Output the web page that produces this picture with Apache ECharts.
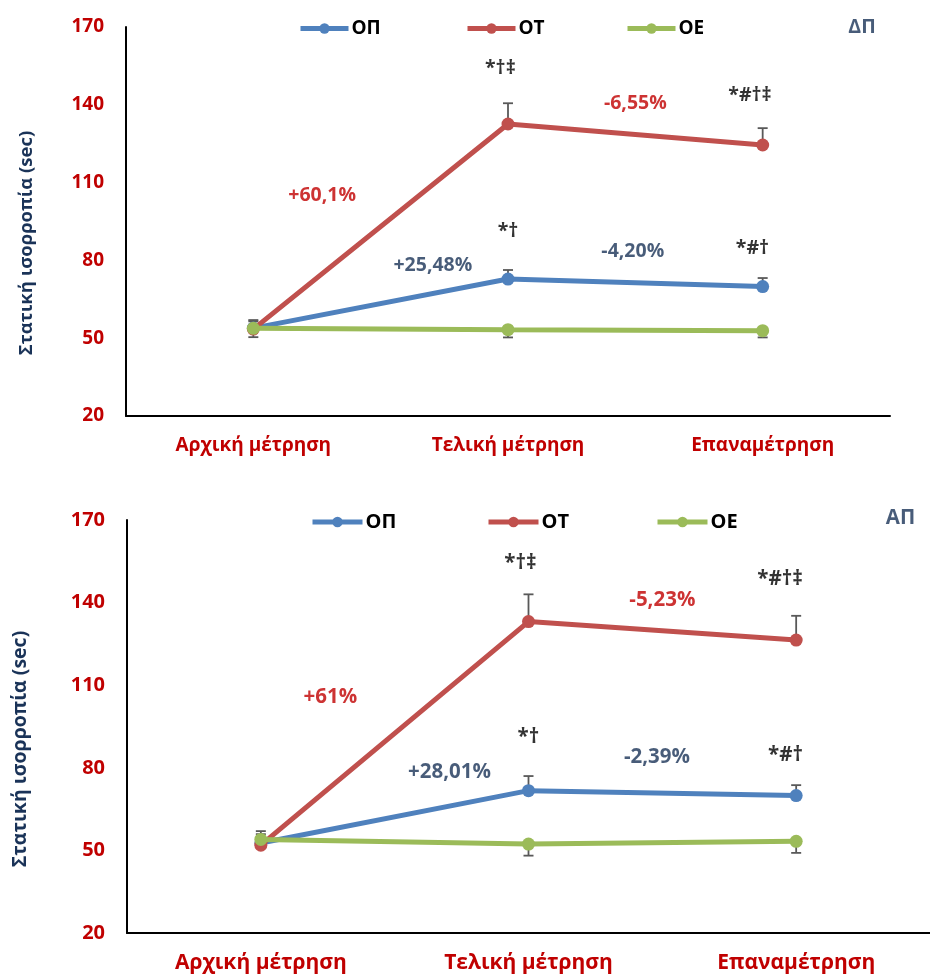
<!DOCTYPE html>
<html>
<head>
<meta charset="utf-8">
<script src="https://cdn.jsdelivr.net/npm/echarts@6/dist/echarts.min.js"></script>
<style>html,body{margin:0;padding:0;background:#fff}#c{width:930px;height:978px}</style>
</head>
<body>
<div id="c"></div>
<script>
// ---- data ----
var categories = ['Αρχική μέτρηση', 'Τελική μέτρηση', 'Επαναμέτρηση'];
var seriesNames = ['ΟΠ', 'ΟΤ', 'ΟΕ'];
var yTicks = [20, 50, 80, 110, 140, 170];

// Top panel (ΔΠ)
var dpOP = [53.9, 72.8, 69.9];
var dpOT = [53.5, 132.6, 124.5];
var dpOE = [53.8, 53.3, 52.9];
var dpErrOP = [3.1, 3.5, 3.3];   // upward
var dpErrOT = [3.0, 8.0, 6.5];   // upward
var dpErrOE = [3.4, 3.0, 2.6];   // downward

// Bottom panel (ΑΠ)
var apOP = [52.7, 71.7, 69.9];
var apOT = [51.9, 133.1, 126.4];
var apOE = [54.0, 52.3, 53.3];
var apErrOP = [4.3, 5.3, 3.8];
var apErrOT = [4.0, 9.9, 8.8];
var apErrOE = [2.0, 4.2, 4.2];

// annotations: [x position (category units), y value, text, colour key]
var dpNotes = [
  [0.27, 105.2, '+60,1%', 'red'],
  [0.97, 154.2, '*†‡', 'black'],
  [1.50, 140.7, '-6,55%', 'red'],
  [1.95, 143.8, '*#†‡', 'black'],
  [1.00, 91.0, '*†', 'black'],
  [0.705, 78.2, '+25,48%', 'navy'],
  [1.49, 83.6, '-4,20%', 'navy'],
  [1.96, 84.8, '*#†', 'black'],
  [2.39, 170.0, 'ΔΠ', 'navy']
];
var apNotes = [
  [0.26, 105.7, '+61%', 'red'],
  [0.97, 154.4, '*†‡', 'black'],
  [1.50, 140.9, '-5,23%', 'red'],
  [1.94, 148.6, '*#†‡', 'black'],
  [1.00, 91.2, '*†', 'black'],
  [0.705, 78.5, '+28,01%', 'navy'],
  [1.48, 83.9, '-2,39%', 'navy'],
  [1.96, 84.6, '*#†', 'black'],
  [2.39, 170.7, 'ΑΠ', 'navy']
];

// ---- styles ----
var COLORS = ['#4f81bd', '#c0504d', '#9bbb59'];
var TXT = {red: '#c00000', navy: '#1a3358', black: '#000000'};
var FONT = '"Open Sans", "Noto Sans", sans-serif';

function lineSeries(idx, name, data, color, z) {
  return {
    type: 'line', name: name, xAxisIndex: idx, yAxisIndex: idx,
    data: data, symbol: 'circle', symbolSize: 13,
    lineStyle: {color: color, width: 5}, itemStyle: {color: color},
    z: z, silent: true, animation: false
  };
}
function errSeries(idx, vals, errs, dir) {
  var d = vals.map(function (v, i) { return [i, v, errs[i]]; });
  return {
    type: 'custom', xAxisIndex: idx, yAxisIndex: idx, data: d, z: 1, silent: true, animation: false,
    renderItem: function (params, api) {
      var x = api.value(0), v = api.value(1), e = api.value(2);
      var p0 = api.coord([x, v]);
      var p1 = api.coord([x, v + dir * e]);
      var s = {stroke: '#595959', lineWidth: 1.8};
      return {type: 'group', children: [
        {type: 'line', shape: {x1: p0[0], y1: p0[1], x2: p1[0], y2: p1[1]}, style: s},
        {type: 'line', shape: {x1: p1[0] - 5, y1: p1[1], x2: p1[0] + 5, y2: p1[1]}, style: s}
      ]};
    }
  };
}
function noteSeries(xIdx, yIdx, notes, size) {
  return {
    type: 'scatter', xAxisIndex: xIdx, yAxisIndex: yIdx, clip: false, silent: true, animation: false,
    symbolSize: 1, itemStyle: {color: 'rgba(0,0,0,0)'}, z: 10,
    data: notes.map(function (n) {
      return {value: [n[0], n[1]], label: {show: true, position: 'inside', formatter: n[2],
        color: TXT[n[3]], fontFamily: FONT, fontWeight: 'bold', fontSize: size}};
    })
  };
}

var grids = [
  {left: 126, right: 40, top: 27, height: 389},
  {left: 127, right: -7, top: 520, height: 413}
];
var xLabelSize = [19, 21];
var yLabelSize = [19, 20];

var xAxes = [0, 1].map(function (i) {
  return {
    type: 'category', gridIndex: i, data: categories, boundaryGap: true,
    axisLine: {onZero: false, lineStyle: {color: '#000', width: 2}}, axisTick: {show: false},
    axisLabel: {color: '#c00000', fontFamily: FONT, fontWeight: 'bold', fontSize: xLabelSize[i], margin: 20}
  };
}).concat([0, 1].map(function (i) {
  return {type: 'value', gridIndex: i, min: -0.5, max: 2.5, show: false};
}));

var yAxes = [0, 1].map(function (i) {
  return {
    type: 'value', gridIndex: i, min: yTicks[0], max: yTicks[yTicks.length - 1],
    interval: yTicks[1] - yTicks[0],
    axisLine: {show: true, onZero: false, lineStyle: {color: '#000', width: 2}}, axisTick: {show: false},
    splitLine: {show: false},
    axisLabel: {color: '#c00000', fontFamily: FONT, fontWeight: 'bold', fontSize: yLabelSize[i], margin: 22}
  };
});

function legendItem(name, left, top, w, size) {
  return {
    left: left, top: top, padding: 0, itemWidth: w, itemHeight: 13,
    data: [name], selectedMode: false,
    lineStyle: {width: 5},
    textStyle: {color: '#000', fontFamily: FONT, fontWeight: 'bold', fontSize: size, padding: [0, 0, 0, -2]}
  };
}
var legendLeftTop = [298, 465, 625];
var legendLeftBottom = [310, 486, 655];
var legends = [];
seriesNames.forEach(function (n, i) {
  legends.push(legendItem(n, legendLeftTop[i], 19, 48, 19));
  legends.push(legendItem(n, legendLeftBottom[i], 512, 50, 20));
});

var series = [
  lineSeries(0, seriesNames[0], dpOP, COLORS[0], 2),
  lineSeries(0, seriesNames[1], dpOT, COLORS[1], 3),
  lineSeries(0, seriesNames[2], dpOE, COLORS[2], 4),
  errSeries(0, dpOP, dpErrOP, 1),
  errSeries(0, dpOT, dpErrOT, 1),
  errSeries(0, dpOE, dpErrOE, -1),
  noteSeries(2, 0, dpNotes, 19.5),
  lineSeries(1, seriesNames[0], apOP, COLORS[0], 2),
  lineSeries(1, seriesNames[1], apOT, COLORS[1], 3),
  lineSeries(1, seriesNames[2], apOE, COLORS[2], 4),
  errSeries(1, apOP, apErrOP, 1),
  errSeries(1, apOT, apErrOT, 1),
  errSeries(1, apOE, apErrOE, -1),
  noteSeries(3, 1, apNotes, 20.5)
];

var yName = 'Στατική ισορροπία (sec)';
var chart = echarts.init(document.getElementById('c'), null, {renderer: 'canvas'});
chart.setOption({
  animation: false,
  grid: grids,
  xAxis: xAxes,
  yAxis: yAxes,
  legend: legends,
  graphic: [
    {type: 'text', x: 27, y: 243, rotation: Math.PI / 2, style: {text: yName, fill: '#1a3358',
      font: 'bold 18.5px ' + FONT, align: 'center', verticalAlign: 'middle'}},
    {type: 'text', x: 20, y: 749, rotation: Math.PI / 2, style: {text: yName, fill: '#1a3358',
      font: 'bold 19.5px ' + FONT, align: 'center', verticalAlign: 'middle'}}
  ],
  series: series
});
</script>
</body>
</html>
